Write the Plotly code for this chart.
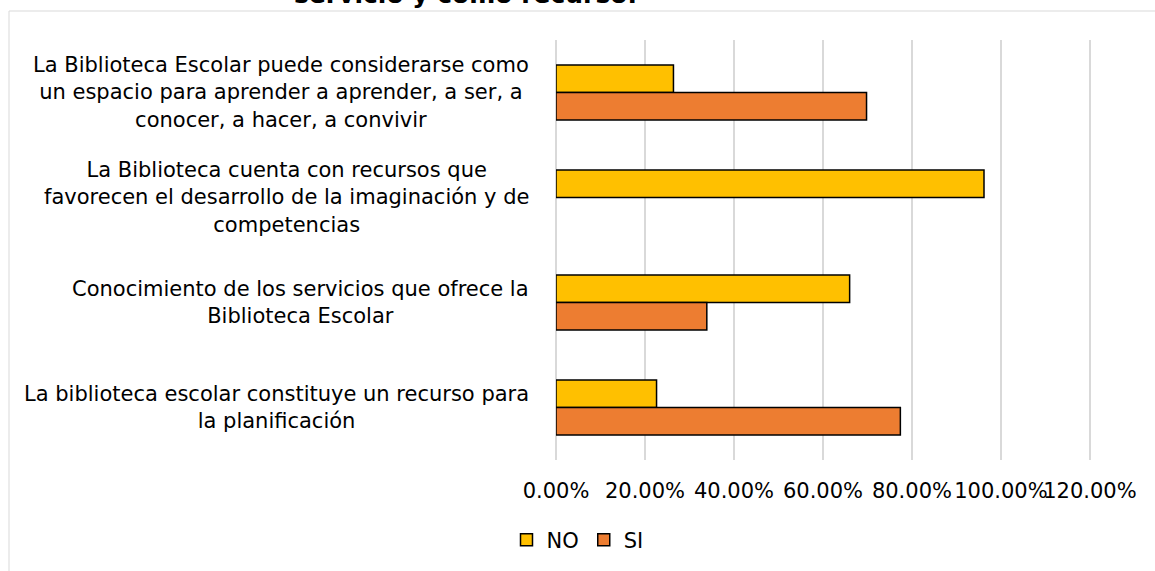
import plotly.graph_objects as go

# ---- data ----
categories = [
    "La Biblioteca Escolar puede considerarse como<br>un espacio para aprender a aprender, a ser, a<br>conocer, a hacer, a convivir",
    "La Biblioteca cuenta con recursos que<br>favorecen el desarrollo de la imaginación y de<br>competencias",
    "Conocimiento de los servicios que ofrece la<br>Biblioteca Escolar",
    "La biblioteca escolar constituye un recurso para<br>la planificación",
]
no_values = [0.264, 0.962, 0.660, 0.226]
si_values = [0.698, None, 0.339, 0.774]
series_names = ["NO", "SI"]
tick_values = [0.0, 0.2, 0.4, 0.6, 0.8, 1.0, 1.2]
tick_labels = ["0.00%", "20.00%", "40.00%", "60.00%", "80.00%", "100.00%", "120.00%"]
title_text = "servicio y como recurso."

FONT = "DejaVu Sans"
W, H = 1155, 571
L, R, T, B = 556, 64, 40, 111

fig = go.Figure()
fig.add_trace(go.Bar(
    y=categories, x=no_values, name=series_names[0], orientation="h",
    marker=dict(color="#FFC000", line=dict(color="#000000", width=1.5)),
))
fig.add_trace(go.Bar(
    y=categories, x=si_values, name=series_names[1], orientation="h",
    marker=dict(color="#ED7D31", line=dict(color="#000000", width=1.5)),
))

# category labels (centered multi-line, right-anchored block)
pw = W - L - R
ph = H - T - B
for c in categories:
    fig.add_annotation(
        x=(531 - L) / pw, xref="paper", y=c, yref="y",
        text=c, showarrow=False, xanchor="right", yanchor="middle",
        align="center", font=dict(family=FONT, size=21, color="#000000"),
    )

# title (cut off at top edge as in the source image)
fig.add_annotation(
    x=(465 - L) / pw, xref="paper", y=(H - B - (-5)) / ph, yref="paper",
    text="<b>" + title_text + "</b>", showarrow=False,
    xanchor="center", yanchor="middle",
    font=dict(family=FONT, size=25, color="#000000"),
)

# chart frame (partially visible)
fig.add_shape(
    type="rect", xref="paper", yref="paper",
    x0=(9 - L) / pw, x1=(W + 20 - L) / pw,
    y0=(H - B - (H + 20)) / ph, y1=(H - B - 11) / ph,
    line=dict(color="#d9d9d9", width=1), fillcolor="rgba(0,0,0,0)", layer="below",
)

fig.update_layout(
    width=W, height=H,
    margin=dict(l=L, r=R, t=T, b=B, autoexpand=False),
    paper_bgcolor="white", plot_bgcolor="white",
    barmode="group", bargap=0.476, bargroupgap=0,
    font=dict(family=FONT, size=21, color="#000000"),
    showlegend=True,
    legend=dict(
        orientation="h", xref="container", yref="container",
        x=0.5, xanchor="center", y=1 - 540 / H, yanchor="middle",
        font=dict(family=FONT, size=21, color="#000000"),
        itemwidth=30, traceorder="normal",
    ),
    xaxis=dict(
        range=[0, 1.2025], tickmode="array", tickvals=tick_values, ticktext=tick_labels,
        tickangle=0, automargin=False,
        showgrid=True, gridcolor="#d9d9d9", gridwidth=1.5,
        zeroline=True, zerolinecolor="#d9d9d9", zerolinewidth=1.5,
        showline=False, ticks="outside", ticklen=12, tickcolor="rgba(0,0,0,0)",
        tickfont=dict(family=FONT, size=21, color="#000000"),
        fixedrange=True,
    ),
    yaxis=dict(
        categoryorder="array", categoryarray=categories,
        autorange="reversed", showticklabels=False, showgrid=False,
        zeroline=False, showline=False, fixedrange=True, automargin=False,
    ),
)

fig.write_html(
    "out.html",
    config={"displayModeBar": False},
    post_script="document.body.style.margin='0';",
)
